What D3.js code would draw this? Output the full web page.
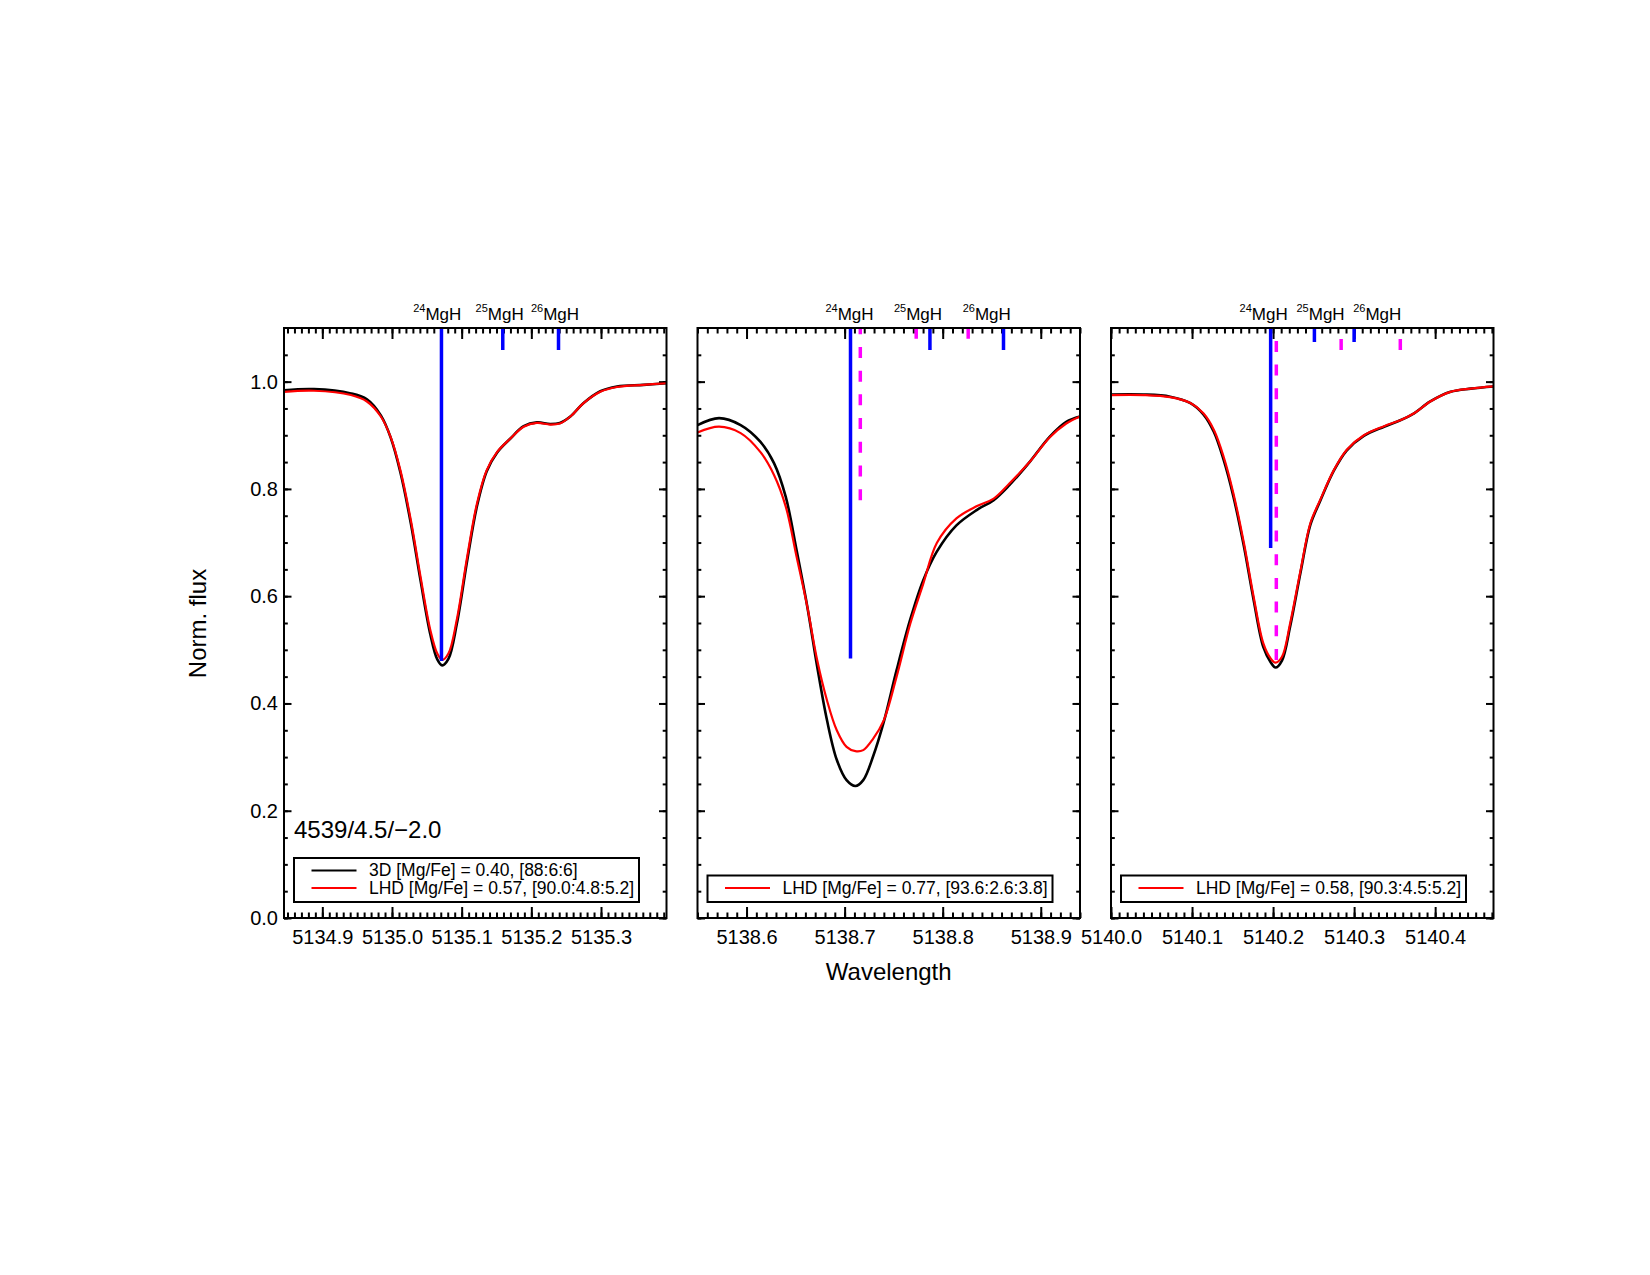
<!DOCTYPE html>
<html>
<head>
<meta charset="utf-8">
<script src="https://cdn.jsdelivr.net/npm/d3@7"></script>
<style>
  body { margin: 0; background: #fff; }
  svg text { font-family: "Liberation Sans", Arial, Helvetica, sans-serif; fill: #000; }
</style>
</head>
<body>
<div id="chart"></div>
<script>
// ---- data ----
// panel 1 : 5135 A region
var wl1 = [5134.845, 5134.888, 5134.941, 5134.964, 5134.984, 5134.998, 5135.012, 5135.027, 5135.041, 5135.055,
           5135.065, 5135.072, 5135.081, 5135.093, 5135.108, 5135.122, 5135.136, 5135.151, 5135.170, 5135.189,
           5135.208, 5135.227, 5135.241, 5135.256, 5135.275, 5135.299, 5135.323, 5135.361, 5135.394];
var flux3D_1 = [0.984, 0.986, 0.978, 0.967, 0.937, 0.896, 0.831, 0.736, 0.629, 0.529, 0.482, 0.471, 0.483, 0.548,
                0.667, 0.768, 0.833, 0.868, 0.894, 0.917, 0.924, 0.921, 0.923, 0.935, 0.960, 0.982, 0.991, 0.994, 0.997];
var fluxLHD_1 = [0.981, 0.983, 0.975, 0.963, 0.935, 0.897, 0.835, 0.742, 0.636, 0.537, 0.493, 0.481, 0.493, 0.556,
                 0.674, 0.773, 0.835, 0.869, 0.894, 0.916, 0.923, 0.920, 0.922, 0.935, 0.960, 0.981, 0.990, 0.994, 0.997];

// panel 2 : 5138.7 A region
var wl2 = [5138.550, 5138.572, 5138.594, 5138.614, 5138.628, 5138.640, 5138.651, 5138.662, 5138.672, 5138.682,
           5138.692, 5138.702, 5138.711, 5138.719, 5138.729, 5138.740, 5138.753, 5138.767, 5138.780, 5138.794,
           5138.814, 5138.835, 5138.852, 5138.868, 5138.889, 5138.909, 5138.926, 5138.940];
var flux3D_2 = [0.919, 0.932, 0.919, 0.888, 0.848, 0.785, 0.686, 0.580, 0.469, 0.369, 0.295, 0.257, 0.246, 0.257,
                0.301, 0.366, 0.462, 0.557, 0.629, 0.683, 0.732, 0.761, 0.779, 0.807, 0.851, 0.897, 0.925, 0.935];
var fluxLHD_2 = [0.905, 0.916, 0.904, 0.869, 0.826, 0.767, 0.674, 0.580, 0.481, 0.406, 0.350, 0.319, 0.311, 0.313,
                 0.334, 0.369, 0.450, 0.549, 0.622, 0.699, 0.745, 0.768, 0.782, 0.810, 0.851, 0.896, 0.922, 0.935];

// panel 3 : 5140.2 A region
var wl3 = [5139.999, 5140.040, 5140.073, 5140.098, 5140.114, 5140.127, 5140.139, 5140.151, 5140.164, 5140.176,
           5140.188, 5140.197, 5140.203, 5140.211, 5140.221, 5140.234, 5140.246, 5140.258, 5140.275, 5140.291,
           5140.312, 5140.337, 5140.357, 5140.374, 5140.394, 5140.419, 5140.444, 5140.472];
var flux3D_3 = [0.976, 0.976, 0.972, 0.960, 0.939, 0.906, 0.854, 0.786, 0.693, 0.593, 0.505, 0.477, 0.467, 0.480,
                0.543, 0.645, 0.733, 0.777, 0.834, 0.872, 0.899, 0.916, 0.928, 0.941, 0.963, 0.981, 0.987, 0.991];
var fluxLHD_3 = [0.975, 0.975, 0.971, 0.960, 0.941, 0.910, 0.860, 0.792, 0.699, 0.599, 0.512, 0.484, 0.476, 0.487,
                 0.549, 0.649, 0.736, 0.779, 0.835, 0.873, 0.900, 0.917, 0.928, 0.941, 0.963, 0.981, 0.987, 0.991];

// x ranges and tick labels
var xRange1 = [5134.845, 5135.394], xTicks1 = [5134.9, 5135.0, 5135.1, 5135.2, 5135.3];
var xRange2 = [5138.550, 5138.940], xTicks2 = [5138.6, 5138.7, 5138.8, 5138.9];
var xRange3 = [5140.000, 5140.472], xTicks3 = [5140.0, 5140.1, 5140.2, 5140.3, 5140.4];
var yTicks = [0.0, 0.2, 0.4, 0.6, 0.8, 1.0];

// isotopic line positions (wavelength, lowest flux reached by the marker)
var lines3D_1 = [[5135.071, 0.479], [5135.159, 1.059], [5135.239, 1.059]];
var linesLHD_1 = [];
var lines3D_2 = [[5138.706, 0.484], [5138.787, 1.059], [5138.862, 1.059]];
var linesLHD_2 = [[5138.716, 0.779], [5138.773, 1.080], [5138.826, 1.080]];
var lines3D_3 = [[5140.197, 0.690], [5140.251, 1.074], [5140.300, 1.074]];
var linesLHD_3 = [[5140.204, 0.481], [5140.284, 1.059], [5140.357, 1.059]];

var isoNames = ["24", "25", "26"];
var isoLabel1 = [5135.065, 5135.1545, 5135.234];
var isoLabel2 = [5138.705, 5138.7748, 5138.8449];
var isoLabel3 = [5140.1883, 5140.2586, 5140.3285];

var legend1 = [["3D [Mg/Fe] = 0.40, [88:6:6]", "#000"], ["LHD [Mg/Fe] = 0.57, [90.0:4.8:5.2]", "#ff0000"]];
var legend2 = [["LHD [Mg/Fe] = 0.77, [93.6:2.6:3.8]", "#ff0000"]];
var legend3 = [["LHD [Mg/Fe] = 0.58, [90.3:4.5:5.2]", "#ff0000"]];

var panels = [
  {wl: wl1, f3d: flux3D_1, flhd: fluxLHD_1, range: xRange1, ticks: xTicks1, l3d: lines3D_1, llhd: linesLHD_1, labels: isoLabel1, legend: legend1},
  {wl: wl2, f3d: flux3D_2, flhd: fluxLHD_2, range: xRange2, ticks: xTicks2, l3d: lines3D_2, llhd: linesLHD_2, labels: isoLabel2, legend: legend2},
  {wl: wl3, f3d: flux3D_3, flhd: fluxLHD_3, range: xRange3, ticks: xTicks3, l3d: lines3D_3, llhd: linesLHD_3, labels: isoLabel3, legend: legend3}
];

// ---- layout ----
var svgWidth = 1650, svgHeight = 1275;
var plotTop = 328, plotH = 590, plotW = 382.5;
var lefts = [284, 697.5, 1111];

var svg = d3.select("#chart").append("svg")
  .attr("width", svgWidth)
  .attr("height", svgHeight)
  .style("background", "#fff");

var y = d3.scaleLinear().domain([0, 1.1]).range([plotH, 0]);
var minorY = d3.range(0, 22).map(i => i * 0.05);

function styleAxis(g) {
  g.select(".domain").remove();
  g.selectAll("line").attr("stroke", "#000").attr("stroke-width", 2);
  g.selectAll("text").attr("font-size", 20).attr("font-family", null);
}

panels.forEach(function(p, i) {
  var x = d3.scaleLinear().domain(p.range).range([0, plotW]);
  var minorX = d3.range(Math.ceil(p.range[0] * 100 - 1e-6), Math.floor(p.range[1] * 100 + 1e-6) + 1).map(d => d / 100);

  var g = svg.append("g").attr("transform", `translate(${lefts[i]}, ${plotTop})`);

  g.append("clipPath").attr("id", "clip" + i)
    .append("rect").attr("width", plotW).attr("height", plotH);

  // x axes (bottom labelled, top unlabelled), ticks pointing inward
  g.append("g").attr("transform", `translate(0, ${plotH})`)
    .call(d3.axisBottom(x).tickValues(minorX).tickSize(-5.5).tickFormat(""))
    .call(styleAxis);
  g.append("g").attr("transform", `translate(0, ${plotH})`)
    .call(d3.axisBottom(x).tickValues(p.ticks).tickSize(-11).tickPadding(12).tickFormat(d3.format(".1f")))
    .call(styleAxis);
  g.append("g")
    .call(d3.axisTop(x).tickValues(minorX).tickSize(-5.5).tickFormat(""))
    .call(styleAxis);
  g.append("g")
    .call(d3.axisTop(x).tickValues(p.ticks).tickSize(-11).tickFormat(""))
    .call(styleAxis);

  // y axes
  g.append("g")
    .call(d3.axisLeft(y).tickValues(minorY).tickSize(-3.8).tickFormat(""))
    .call(styleAxis);
  g.append("g")
    .call(d3.axisLeft(y).tickValues(yTicks).tickSize(-7.5).tickPadding(6)
      .tickFormat(i === 0 ? d3.format(".1f") : ""))
    .call(styleAxis);
  g.append("g").attr("transform", `translate(${plotW}, 0)`)
    .call(d3.axisRight(y).tickValues(minorY).tickSize(-3.8).tickFormat(""))
    .call(styleAxis);
  g.append("g").attr("transform", `translate(${plotW}, 0)`)
    .call(d3.axisRight(y).tickValues(yTicks).tickSize(-7.5).tickFormat(""))
    .call(styleAxis);

  // spectra
  var line = d3.line()
    .x(d => x(d[0]))
    .y(d => y(d[1]))
    .curve(d3.curveCatmullRom.alpha(0.5));

  var plotArea = g.append("g").attr("clip-path", `url(#clip${i})`);

  plotArea.append("path")
    .datum(p.wl.map((w, k) => [w, p.f3d[k]]))
    .attr("fill", "none").attr("stroke", "#000").attr("stroke-width", 2.6)
    .attr("d", line);
  plotArea.append("path")
    .datum(p.wl.map((w, k) => [w, p.flhd[k]]))
    .attr("fill", "none").attr("stroke", "#ff0000").attr("stroke-width", 2.2)
    .attr("d", line);

  // isotopic markers: 3D solid blue, LHD dashed magenta (drawn from bottom up)
  plotArea.selectAll(".l3d")
    .data(p.l3d).enter().append("line")
    .attr("class", "l3d")
    .attr("x1", d => x(d[0])).attr("x2", d => x(d[0]))
    .attr("y1", y(1.1)).attr("y2", d => y(d[1]))
    .attr("stroke", "#0000ff").attr("stroke-width", 3.5);
  plotArea.selectAll(".llhd")
    .data(p.llhd).enter().append("line")
    .attr("class", "llhd")
    .attr("x1", d => x(d[0])).attr("x2", d => x(d[0]))
    .attr("y1", d => y(d[1])).attr("y2", y(1.1))
    .attr("stroke", "#ff00ff").attr("stroke-width", 3.5)
    .attr("stroke-dasharray", "11,12.7");

  // frame
  g.append("rect")
    .attr("width", plotW).attr("height", plotH)
    .attr("fill", "none").attr("stroke", "#000").attr("stroke-width", 2);

  // isotope labels above the frame
  p.labels.forEach(function(w, k) {
    var t = g.append("text")
      .attr("x", x(w)).attr("y", -8)
      .attr("text-anchor", "middle");
    t.append("tspan").attr("font-size", 11).attr("dy", -8).text(isoNames[k]);
    t.append("tspan").attr("font-size", 17).attr("dy", 8).text("MgH");
  });

  // legend box
  var n = p.legend.length;
  var boxH = 9 + 17.5 * n;
  var lg = g.append("g").attr("transform", `translate(10, ${plotH - 16 - boxH})`);
  lg.append("rect")
    .attr("width", 345).attr("height", boxH)
    .attr("fill", "#fff").attr("stroke", "#000").attr("stroke-width", 2);
  p.legend.forEach(function(e, k) {
    var ly = 12.5 + 17.5 * k;
    lg.append("line")
      .attr("x1", 17.5).attr("x2", 62.5)
      .attr("y1", ly).attr("y2", ly)
      .attr("stroke", e[1]).attr("stroke-width", 2);
    lg.append("text")
      .attr("x", 75).attr("y", ly + 5.5)
      .attr("font-size", 17.5)
      .text(e[0]);
  });

  if (i === 0) {
    g.append("text")
      .attr("x", 10).attr("y", 510.3)
      .attr("font-size", 24)
      .text("4539/4.5/\u22122.0");
  }
});

// axis titles
svg.append("text")
  .attr("transform", "translate(206, 623.5) rotate(-90)")
  .attr("text-anchor", "middle")
  .attr("font-size", 24)
  .text("Norm. flux");

svg.append("text")
  .attr("x", 888.7).attr("y", 980)
  .attr("text-anchor", "middle")
  .attr("font-size", 24)
  .text("Wavelength");
</script>
</body>
</html>
